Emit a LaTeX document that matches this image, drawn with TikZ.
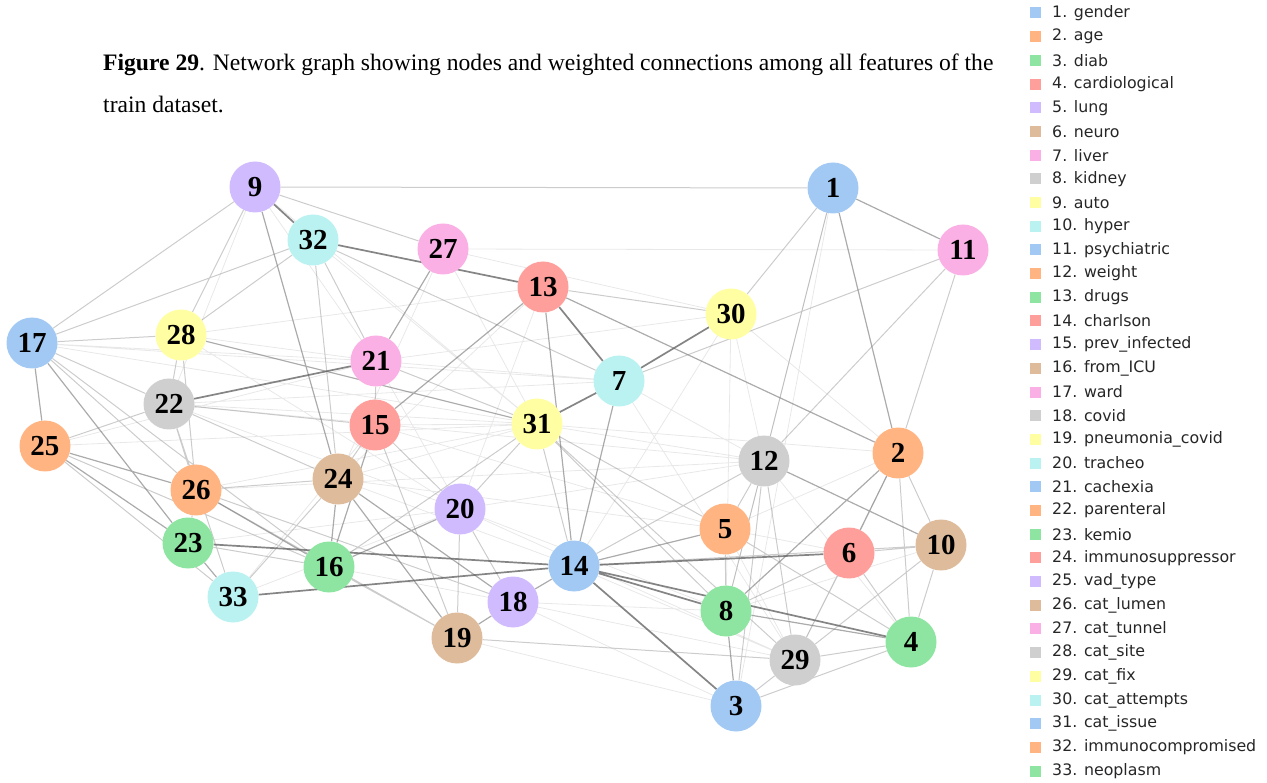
\documentclass[tikz,border=0pt]{standalone}
\usepackage{fontspec}
\setmainfont{Liberation Serif}
\newfontfamily\legfont{DejaVu Sans}
\usetikzlibrary{backgrounds}

\definecolor{pblue}{HTML}{A1C9F4}
\definecolor{porange}{HTML}{FFB482}
\definecolor{pgreen}{HTML}{8DE5A1}
\definecolor{pred}{HTML}{FF9F9B}
\definecolor{ppurple}{HTML}{D0BBFF}
\definecolor{pbrown}{HTML}{DEBB9B}
\definecolor{ppink}{HTML}{FAB0E4}
\definecolor{pgray}{HTML}{CFCFCF}
\definecolor{pyellow}{HTML}{FFFEA3}
\definecolor{pcyan}{HTML}{B9F2F0}

\tikzset{
  feat/.style={circle, minimum size=51pt, inner sep=0pt,
    font=\fontsize{29}{29}\selectfont\bfseries},
  efaint/.style={draw=gray, opacity=.18, line width=.8pt},
  elight/.style={draw=gray, opacity=.4, line width=1pt},
  emid/.style={draw=gray!90!black, opacity=.6, line width=1.2pt},
  edark/.style={draw=gray!80!black, opacity=.8, line width=1.7pt},
  legbox/.style={fill=#1, minimum size=11pt, inner sep=0pt},
  legtext/.style={anchor=west, inner sep=0pt, font=\legfont\fontsize{15.8}{16}\selectfont, text=black!85},
  captext/.style={anchor=base west, inner sep=0pt, font=\fontsize{23.6}{24}\selectfont}
}

\begin{document}
\begin{tikzpicture}[x=1pt, y=-1pt]
  \useasboundingbox (0,0) rectangle (1267,783);

  % caption
  \node[captext] (cap1) at (103,71)
    {\textbf{Figure 29}. Network graph showing nodes and weighted connections among all features of the};
  \node[captext] (cap2) at (103,113) {train dataset.};

  % features
  \node[feat, fill=pblue]   (n1)  at (833,188) {1};
  \node[feat, fill=porange] (n2)  at (898,453) {2};
  \node[feat, fill=pblue]   (n3)  at (736,706) {3};
  \node[feat, fill=pgreen]  (n4)  at (911,642) {4};
  \node[feat, fill=porange] (n5)  at (725,529) {5};
  \node[feat, fill=pred]    (n6)  at (849,553) {6};
  \node[feat, fill=pcyan]   (n7)  at (619,381) {7};
  \node[feat, fill=pgreen]  (n8)  at (726,611) {8};
  \node[feat, fill=ppurple] (n9)  at (255,187) {9};
  \node[feat, fill=pbrown]  (n10) at (941,545) {10};
  \node[feat, fill=ppink]   (n11) at (963,250) {11};
  \node[feat, fill=pgray]   (n12) at (764,461) {12};
  \node[feat, fill=pred]    (n13) at (543,287) {13};
  \node[feat, fill=pblue]   (n14) at (574,566) {14};
  \node[feat, fill=pred]    (n15) at (375,425) {15};
  \node[feat, fill=pgreen]  (n16) at (329,567) {16};
  \node[feat, fill=pblue]   (n17) at (32,343)  {17};
  \node[feat, fill=ppurple] (n18) at (513,602) {18};
  \node[feat, fill=pbrown]  (n19) at (457,638) {19};
  \node[feat, fill=ppurple] (n20) at (460,509) {20};
  \node[feat, fill=ppink]   (n21) at (376,361) {21};
  \node[feat, fill=pgray]   (n22) at (169,404) {22};
  \node[feat, fill=pgreen]  (n23) at (188,543) {23};
  \node[feat, fill=pbrown]  (n24) at (338,479) {24};
  \node[feat, fill=porange] (n25) at (45,446)  {25};
  \node[feat, fill=porange] (n26) at (196,490) {26};
  \node[feat, fill=ppink]   (n27) at (443,249) {27};
  \node[feat, fill=pyellow] (n28) at (181,335) {28};
  \node[feat, fill=pgray]   (n29) at (795,660) {29};
  \node[feat, fill=pyellow] (n30) at (731,314) {30};
  \node[feat, fill=pyellow] (n31) at (537,424) {31};
  \node[feat, fill=pcyan]   (n32) at (313,240) {32};
  \node[feat, fill=pcyan]   (n33) at (233,597) {33};

  % weighted connections
  \begin{scope}[on background layer]
    \path[efaint] (n9.center) -- (n22.center) (n9.center) -- (n21.center) (n9.center) -- (n31.center)
      (n27.center) -- (n30.center) (n27.center) -- (n11.center) (n32.center) -- (n31.center)
      (n28.center) -- (n21.center) (n28.center) -- (n20.center) (n22.center) -- (n31.center)
      (n22.center) -- (n12.center) (n22.center) -- (n20.center) (n25.center) -- (n21.center)
      (n25.center) -- (n31.center) (n21.center) -- (n7.center) (n21.center) -- (n30.center)
      (n21.center) -- (n20.center) (n15.center) -- (n31.center) (n15.center) -- (n5.center)
      (n24.center) -- (n31.center) (n24.center) -- (n14.center) (n20.center) -- (n12.center)
      (n20.center) -- (n8.center) (n20.center) -- (n29.center) (n18.center) -- (n3.center)
      (n18.center) -- (n29.center) (n18.center) -- (n8.center) (n30.center) -- (n12.center)
      (n30.center) -- (n8.center) (n30.center) -- (n2.center) (n30.center) -- (n14.center)
      (n1.center) -- (n3.center) (n1.center) -- (n8.center) (n12.center) -- (n4.center)
      (n5.center) -- (n29.center) (n5.center) -- (n6.center) (n5.center) -- (n2.center)
      (n26.center) -- (n31.center) (n23.center) -- (n20.center) (n33.center) -- (n20.center)
      (n33.center) -- (n15.center) (n17.center) -- (n21.center) (n17.center) -- (n7.center)
      (n31.center) -- (n12.center) (n31.center) -- (n2.center) (n13.center) -- (n24.center)
      (n13.center) -- (n20.center) (n27.center) -- (n24.center) (n27.center) -- (n31.center)
      (n7.center) -- (n12.center) (n7.center) -- (n29.center) (n14.center) -- (n29.center)
      (n8.center) -- (n10.center) (n2.center) -- (n29.center) (n16.center) -- (n18.center)
      (n22.center) -- (n7.center) (n28.center) -- (n13.center) (n17.center) -- (n31.center)
      (n26.center) -- (n12.center) (n24.center) -- (n5.center) (n19.center) -- (n3.center);
    \path[elight] (n9) -- (n17) (n9) -- (n28) (n9) -- (n27) (n9) -- (n1)
      (n32) -- (n7) (n32) -- (n21) (n32) -- (n24) (n32) -- (n17) (n32) -- (n28)
      (n28) -- (n22) (n28) -- (n26) (n17) -- (n28) (n17) -- (n22) (n17) -- (n26)
      (n17) -- (n16) (n22) -- (n15) (n25) -- (n22) (n25) -- (n33) (n25) -- (n16)
      (n13) -- (n30) (n7) -- (n11) (n1) -- (n12) (n11) -- (n12) (n2) -- (n10)
      (n2) -- (n4) (n12) -- (n5) (n12) -- (n8) (n12) -- (n14) (n12) -- (n29)
      (n5) -- (n8) (n5) -- (n4) (n6) -- (n29) (n6) -- (n10) (n6) -- (n4)
      (n10) -- (n4) (n10) -- (n29) (n3) -- (n29) (n3) -- (n4) (n3) -- (n12)
      (n29) -- (n4) (n29) -- (n19) (n19) -- (n20) (n19) -- (n15) (n19) -- (n26)
      (n19) -- (n16) (n24) -- (n26) (n24) -- (n15) (n26) -- (n23) (n26) -- (n22)
      (n23) -- (n16) (n33) -- (n24) (n33) -- (n22) (n20) -- (n15) (n20) -- (n31)
      (n20) -- (n18) (n15) -- (n21) (n31) -- (n21) (n31) -- (n5) (n31) -- (n8)
      (n31) -- (n29) (n31) -- (n14) (n1) -- (n30) (n11) -- (n2) (n6) -- (n8)
      (n10) -- (n14) (n22) -- (n24) (n26) -- (n18) (n16) -- (n31);
    \path[emid] (n2) -- (n6) (n2) -- (n8) (n14) -- (n5) (n13) -- (n14) (n7) -- (n14)
      (n16) -- (n24) (n16) -- (n20) (n19) -- (n18) (n19) -- (n24) (n17) -- (n25)
      (n17) -- (n23) (n25) -- (n26) (n25) -- (n23) (n8) -- (n4) (n12) -- (n10)
      (n13) -- (n2) (n1) -- (n2) (n15) -- (n13) (n21) -- (n27) (n23) -- (n33)
      (n16) -- (n15) (n9) -- (n24) (n28) -- (n31) (n24) -- (n18) (n1) -- (n11)
      (n8) -- (n3) (n14) -- (n18) (n26) -- (n16);
    \path[edark] (n9) -- (n32) (n14) -- (n33) (n14) -- (n23) (n14) -- (n6)
      (n14) -- (n8) (n14) -- (n4) (n13) -- (n7) (n7) -- (n30) (n7) -- (n31)
      (n22) -- (n21) (n32) -- (n13) (n14) -- (n3);
  \end{scope}

  % legend
  \foreach \k/\lab/\col in {1/gender/pblue, 2/age/porange, 3/diab/pgreen,
      4/cardiological/pred, 5/lung/ppurple, 6/neuro/pbrown, 7/liver/ppink,
      8/kidney/pgray, 9/auto/pyellow, 10/hyper/pcyan, 11/psychiatric/pblue,
      12/weight/porange, 13/drugs/pgreen, 14/charlson/pred,
      15/prev\_infected/ppurple, 16/from\_ICU/pbrown, 17/ward/ppink,
      18/covid/pgray, 19/pneumonia\_covid/pyellow, 20/tracheo/pcyan,
      21/cachexia/pblue, 22/parenteral/porange, 23/kemio/pgreen,
      24/immunosuppressor/pred, 25/vad\_type/ppurple, 26/cat\_lumen/pbrown,
      27/cat\_tunnel/ppink, 28/cat\_site/pgray, 29/cat\_fix/pyellow,
      30/cat\_attempts/pcyan, 31/cat\_issue/pblue,
      32/immunocompromised/porange, 33/neoplasm/pgreen} {
    \node[legbox=\col] (box\k) at (1035, {13+23.69*(\k-1)}) {};
    \node[legtext] (leg\k) at (1052, {13+23.69*(\k-1)}) {\k. \lab};
  }
\end{tikzpicture}
\end{document}
